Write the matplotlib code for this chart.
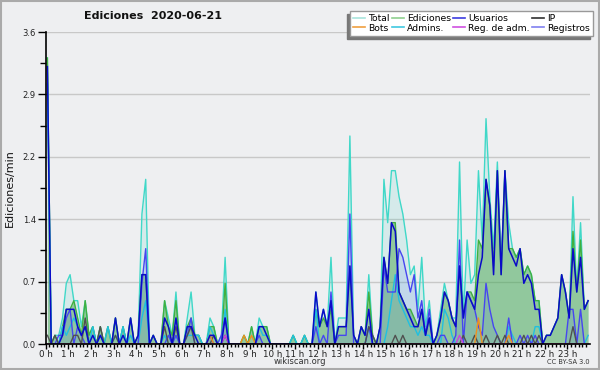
import numpy as np
import matplotlib
matplotlib.use("Agg")
from matplotlib import pyplot as plt
from matplotlib.lines import Line2D
from matplotlib.patches import Rectangle

# edits per minute, 10-minute bins (6 per hour)
total = [3.3, 0.0, 0.1, 0.1, 0.3, 0.7,  0.8, 0.5, 0.5, 0.2, 0.5, 0.1,
         0.2, 0.0, 0.2, 0.0, 0.2, 0.0,  0.3, 0.0, 0.2, 0.0, 0.3, 0.0,
         0.1, 1.5, 1.9, 0.0, 0.1, 0.0,  0.0, 0.5, 0.3, 0.1, 0.6, 0.0,
         0.0, 0.3, 0.6, 0.1, 0.1, 0.0,  0.0, 0.3, 0.2, 0.0, 0.1, 1.0,
         0.0, 0.0, 0.0, 0.0, 0.1, 0.0,  0.2, 0.0, 0.3, 0.2, 0.2, 0.0,
         0.0, 0.0, 0.0, 0.0, 0.0, 0.1,  0.0, 0.0, 0.1, 0.0, 0.0, 0.6,
         0.2, 0.4, 0.2, 1.0, 0.0, 0.3,  0.3, 0.3, 2.4, 0.1, 0.0, 0.2,
         0.1, 0.8, 0.1, 0.0, 0.2, 1.9,  1.4, 2.0, 2.0, 1.7, 1.5, 1.2,
         0.8, 0.9, 0.4, 1.0, 0.2, 0.5,  0.0, 0.1, 0.4, 0.7, 0.5, 0.3,
         0.3, 2.1, 0.3, 1.2, 0.7, 0.8,  2.0, 1.2, 2.6, 1.7, 1.1, 2.1,
         0.9, 2.0, 1.4, 1.1, 1.0, 1.1,  0.8, 0.9, 0.8, 0.5, 0.5, 0.0,
         0.1, 0.1, 0.2, 0.3, 0.8, 0.6,  0.3, 1.7, 0.6, 1.4, 0.4, 0.5]

edits = [3.3, 0.0, 0.1, 0.0, 0.2, 0.4,  0.4, 0.5, 0.3, 0.1, 0.5, 0.1,
         0.2, 0.0, 0.2, 0.0, 0.2, 0.0,  0.3, 0.0, 0.2, 0.0, 0.3, 0.0,
         0.1, 0.8, 0.8, 0.0, 0.1, 0.0,  0.0, 0.5, 0.2, 0.1, 0.5, 0.0,
         0.0, 0.2, 0.3, 0.1, 0.1, 0.0,  0.0, 0.2, 0.2, 0.0, 0.0, 0.7,
         0.0, 0.0, 0.0, 0.0, 0.1, 0.0,  0.2, 0.0, 0.2, 0.2, 0.2, 0.0,
         0.0, 0.0, 0.0, 0.0, 0.0, 0.1,  0.0, 0.0, 0.1, 0.0, 0.0, 0.4,
         0.2, 0.3, 0.2, 0.4, 0.0, 0.2,  0.2, 0.2, 0.9, 0.1, 0.0, 0.2,
         0.1, 0.6, 0.1, 0.0, 0.2, 1.0,  0.7, 1.4, 1.4, 0.6, 0.5, 0.4,
         0.4, 0.3, 0.2, 0.4, 0.1, 0.3,  0.0, 0.1, 0.3, 0.6, 0.5, 0.3,
         0.2, 0.9, 0.3, 0.6, 0.6, 0.5,  1.2, 1.1, 1.9, 1.6, 0.9, 2.0,
         0.8, 2.0, 1.1, 1.1, 1.0, 1.1,  0.8, 0.9, 0.8, 0.5, 0.5, 0.0,
         0.1, 0.1, 0.2, 0.3, 0.8, 0.6,  0.3, 1.3, 0.6, 1.2, 0.4, 0.5]

users = [3.2, 0.0, 0.0, 0.0, 0.1, 0.4,  0.4, 0.4, 0.2, 0.1, 0.2, 0.0,
         0.1, 0.0, 0.1, 0.0, 0.0, 0.0,  0.3, 0.0, 0.1, 0.0, 0.3, 0.0,
         0.1, 0.8, 0.8, 0.0, 0.1, 0.0,  0.0, 0.3, 0.2, 0.0, 0.3, 0.0,
         0.0, 0.2, 0.2, 0.1, 0.0, 0.0,  0.0, 0.1, 0.1, 0.0, 0.0, 0.3,
         0.0, 0.0, 0.0, 0.0, 0.0, 0.0,  0.0, 0.0, 0.2, 0.2, 0.1, 0.0,
         0.0, 0.0, 0.0, 0.0, 0.0, 0.0,  0.0, 0.0, 0.0, 0.0, 0.0, 0.6,
         0.2, 0.4, 0.2, 0.5, 0.0, 0.2,  0.2, 0.2, 0.9, 0.1, 0.0, 0.2,
         0.1, 0.4, 0.0, 0.0, 0.2, 1.0,  0.7, 1.4, 1.3, 0.6, 0.5, 0.4,
         0.3, 0.2, 0.2, 0.4, 0.1, 0.3,  0.0, 0.1, 0.3, 0.6, 0.5, 0.3,
         0.2, 0.9, 0.3, 0.6, 0.5, 0.4,  0.8, 1.0, 1.9, 1.6, 0.8, 2.0,
         0.8, 2.0, 1.1, 1.0, 0.9, 1.1,  0.7, 0.8, 0.7, 0.4, 0.4, 0.0,
         0.1, 0.1, 0.2, 0.3, 0.8, 0.6,  0.3, 1.1, 0.6, 1.0, 0.4, 0.5]

logs = [0.0, 0.0, 0.0, 0.1, 0.1, 0.3,  0.4, 0.0, 0.2, 0.1, 0.0, 0.0,
        0.0, 0.0, 0.0, 0.0, 0.0, 0.0,  0.0, 0.0, 0.0, 0.0, 0.0, 0.0,
        0.0, 0.7, 1.1, 0.0, 0.0, 0.0,  0.0, 0.0, 0.1, 0.0, 0.1, 0.0,
        0.0, 0.1, 0.3, 0.0, 0.0, 0.0,  0.0, 0.1, 0.0, 0.0, 0.1, 0.3,
        0.0, 0.0, 0.0, 0.0, 0.0, 0.0,  0.0, 0.0, 0.1, 0.0, 0.0, 0.0,
        0.0, 0.0, 0.0, 0.0, 0.0, 0.0,  0.0, 0.0, 0.0, 0.0, 0.0, 0.2,
        0.0, 0.1, 0.0, 0.6, 0.0, 0.1,  0.1, 0.1, 1.5, 0.0, 0.0, 0.0,
        0.0, 0.2, 0.0, 0.0, 0.0, 0.9,  0.6, 0.6, 0.6, 1.1, 1.0, 0.8,
        0.6, 0.8, 0.3, 0.5, 0.1, 0.4,  0.0, 0.0, 0.1, 0.1, 0.0, 0.0,
        0.1, 1.2, 0.0, 0.6, 0.5, 0.4,  0.2, 0.1, 0.7, 0.4, 0.2, 0.1,
        0.0, 0.0, 0.3, 0.0, 0.0, 0.1,  0.0, 0.1, 0.0, 0.1, 0.0, 0.0,
        0.0, 0.0, 0.0, 0.0, 0.0, 0.0,  0.4, 0.4, 0.0, 0.4, 0.0, 0.0]

admins = [3.0, 0.0, 0.0, 0.0, 0.2, 0.1,  0.2, 0.3, 0.2, 0.1, 0.2, 0.0,
          0.2, 0.0, 0.1, 0.0, 0.2, 0.0,  0.1, 0.0, 0.2, 0.0, 0.1, 0.0,
          0.0, 0.3, 0.5, 0.0, 0.0, 0.0,  0.0, 0.1, 0.0, 0.0, 0.1, 0.0,
          0.0, 0.1, 0.1, 0.1, 0.1, 0.0,  0.0, 0.2, 0.1, 0.0, 0.0, 0.4,
          0.0, 0.0, 0.0, 0.0, 0.0, 0.0,  0.0, 0.0, 0.2, 0.1, 0.1, 0.0,
          0.0, 0.0, 0.0, 0.0, 0.0, 0.1,  0.0, 0.0, 0.1, 0.0, 0.0, 0.4,
          0.0, 0.0, 0.0, 0.0, 0.0, 0.0,  0.0, 0.0, 0.0, 0.0, 0.0, 0.0,
          0.0, 0.2, 0.0, 0.0, 0.0, 0.0,  0.2, 0.5, 0.8, 0.5, 0.4, 0.3,
          0.2, 0.2, 0.1, 0.2, 0.1, 0.1,  0.0, 0.0, 0.0, 0.4, 0.3, 0.1,
          0.0, 0.0, 0.0, 0.0, 0.0, 0.0,  0.0, 0.0, 0.0, 0.0, 0.0, 0.0,
          0.0, 0.0, 0.2, 0.1, 0.0, 0.0,  0.0, 0.0, 0.0, 0.2, 0.2, 0.0,
          0.0, 0.0, 0.0, 0.0, 0.0, 0.0,  0.0, 0.0, 0.0, 0.0, 0.0, 0.1]

ip = [0.1, 0.0, 0.1, 0.0, 0.0, 0.0,  0.0, 0.1, 0.1, 0.0, 0.3, 0.0,
      0.0, 0.0, 0.2, 0.0, 0.0, 0.0,  0.1, 0.0, 0.0, 0.0, 0.0, 0.0,
      0.0, 0.0, 0.0, 0.0, 0.0, 0.0,  0.0, 0.2, 0.0, 0.0, 0.2, 0.0,
      0.0, 0.1, 0.2, 0.0, 0.0, 0.0,  0.0, 0.0, 0.1, 0.0, 0.0, 0.1,
      0.0, 0.0, 0.0, 0.0, 0.0, 0.0,  0.0, 0.0, 0.0, 0.0, 0.0, 0.0,
      0.0, 0.0, 0.0, 0.0, 0.0, 0.0,  0.0, 0.0, 0.0, 0.0, 0.0, 0.0,
      0.0, 0.0, 0.0, 0.0, 0.0, 0.0,  0.0, 0.0, 0.0, 0.0, 0.0, 0.0,
      0.0, 0.2, 0.1, 0.0, 0.0, 0.0,  0.0, 0.0, 0.1, 0.0, 0.1, 0.0,
      0.0, 0.0, 0.0, 0.0, 0.0, 0.0,  0.0, 0.0, 0.0, 0.0, 0.0, 0.0,
      0.0, 0.0, 0.1, 0.0, 0.0, 0.1,  0.0, 0.0, 0.1, 0.0, 0.0, 0.1,
      0.0, 0.1, 0.0, 0.0, 0.0, 0.0,  0.1, 0.0, 0.1, 0.0, 0.1, 0.0,
      0.0, 0.0, 0.0, 0.0, 0.0, 0.0,  0.0, 0.2, 0.0, 0.0, 0.0, 0.0]

bots = [0.0] * 43 + [0.1] + [0.0] * 8 + [0.1, 0.0, 0.1] + [0.0] * 59 \
       + [0.3] + [0.0] * 7 + [0.1] + [0.0] * 21
reg_adm = [0.0] * 47 + [0.1] + [0.0] * 61 + [0.1] + [0.0] * 34

hour_labels = ["%d h" % h for h in range(24)]
y_ticks = [0.0, 0.72, 1.44, 2.16, 2.88, 3.6]
y_labels = ["0.0", "0.7", "1.4", "2.2", "2.9", "3.6"]

BG = "#eeeff1"
x = (np.arange(len(total)) + 0.5) / 6.0

fig = plt.figure(figsize=(6, 3.7), dpi=100, facecolor=BG)
ax = fig.add_axes([45.5 / 600, 1 - 344 / 370, 544.5 / 600, 312 / 370])
ax.set_facecolor(BG)

# fills
ax.fill_between(x, total, color="#30d0c0", alpha=0.13, lw=0)
ax.fill_between(x, edits, color="#40a040", alpha=0.45, lw=0)
ax.fill_between(x, logs, color="#4060f0", alpha=0.13, lw=0)

# lines
ax.plot(x, total, color="#40d8c8", lw=1)
ax.plot(x, edits, color="#40b040", lw=1)
ax.plot(x, admins, color="#20c0e0", lw=1)
ax.plot(x, logs, color="#4646f0", lw=1)
ax.plot(x, ip, color="#505050", lw=1)
ax.plot(x, bots, color="#f09020", lw=1)
ax.plot(x, reg_adm, color="#d040e0", lw=1)
ax.plot(x, users, color="#0a0ac8", lw=1.1)

ax.set_xlim(0, 24)
ax.set_ylim(0, 3.6)
ax.set_xticks(range(24))
ax.set_xticklabels(hour_labels, fontsize=6.3, color="#222")
ax.set_xticks(np.arange(0, 24, 1 / 6.0), minor=True)
ax.set_yticks(y_ticks)
ax.set_yticklabels(y_labels, fontsize=6, color="#222")
ax.set_yticks([0.36, 1.08, 1.8, 2.52, 3.24], minor=True)
ax.tick_params(axis="x", which="major", length=3.5, width=1, pad=0.5)
ax.tick_params(axis="x", which="minor", length=2.5, width=1)
ax.tick_params(axis="y", which="major", length=6, width=1, pad=1)
ax.tick_params(axis="y", which="minor", length=4, width=1)
for t in y_ticks[1:]:
    ax.axhline(t, color="#c8c8c8", lw=1, zorder=0)
for s in ["top", "right"]:
    ax.spines[s].set_visible(False)
for s in ["left", "bottom"]:
    ax.spines[s].set_color("black")
    ax.spines[s].set_linewidth(1.2)

# legend, filled column by column
names = ["Total", "Bots", "Ediciones", "Admins.",
         "Usuarios", "Reg. de adm.", "IP", "Registros"]
leg_colors = ["#a8e4dc", "#f0a040", "#8fd08f", "#40c8e0",
              "#3c3ce0", "#d050e0", "#303030", "#8080f0"]
handles = [Line2D([], [], color=c, lw=1.2) for c in leg_colors]
fig.legend(handles, names, ncol=4, loc="upper right",
           bbox_to_anchor=(593 / 600, 1 - 11 / 370), fontsize=6.7,
           frameon=True, fancybox=False, framealpha=1, facecolor="white",
           edgecolor="#999999", borderpad=0.35, labelspacing=0.05,
           handlelength=1.3, handletextpad=0.3, columnspacing=0.25,
           borderaxespad=0,
           shadow={"ox": -2.2, "oy": -2.2, "color": "#777777", "alpha": 1})

fig.text(153 / 600, 1 - 16 / 370, "Ediciones  2020-06-21", ha="center",
         va="center", fontsize=8, fontweight="bold", color="#111")
fig.text(10 / 600, 1 - 188 / 370, "Ediciones/min", rotation=90,
         ha="center", va="center", fontsize=8, color="#111")
fig.text(300 / 600, 1 - 362 / 370, "wikiscan.org", ha="center",
         va="center", fontsize=6, color="#333")
fig.text(590 / 600, 1 - 362.5 / 370, "CC BY-SA 3.0", ha="right",
         va="center", fontsize=4.8, color="#333")
fig.patches.append(Rectangle((0.0015, 0.002), 0.997, 0.996,
                             transform=fig.transFigure, fill=False,
                             edgecolor="#aaaaaa", lw=1.5))

fig.savefig("out.png", dpi=100, facecolor=BG)
